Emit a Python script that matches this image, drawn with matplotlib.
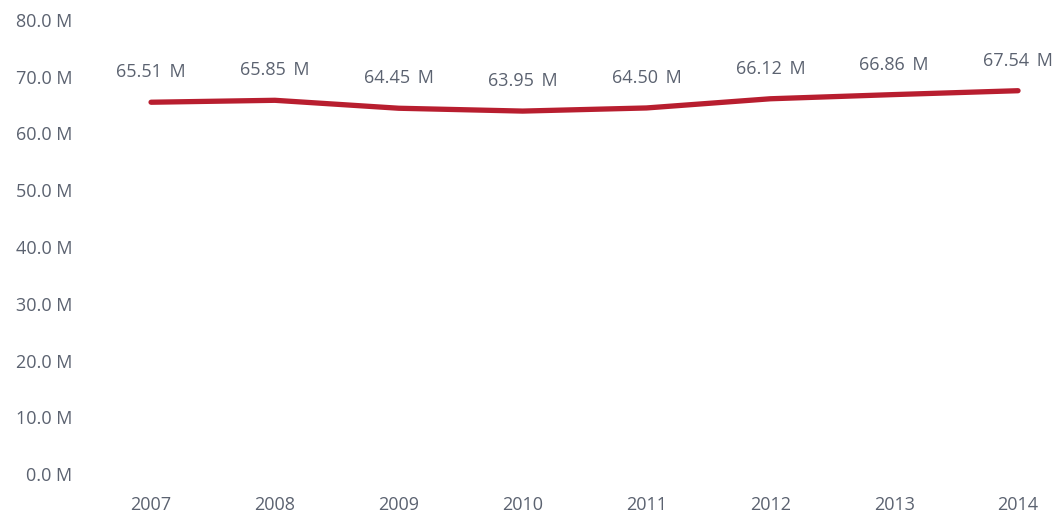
import matplotlib
matplotlib.use("Agg")
import matplotlib.pyplot as plt
from matplotlib.ticker import FuncFormatter

years = ["2007", "2008", "2009", "2010", "2011", "2012", "2013", "2014"]
values_m = [65.51, 65.85, 64.45, 63.95, 64.50, 66.12, 66.86, 67.54]
y_ticks = [0, 10, 20, 30, 40, 50, 60, 70, 80]

TEXT = "#5b6270"
LINE = "#b81e2f"

plt.rcParams["font.family"] = ["Open Sans", "DejaVu Sans"]

W, H = 1062, 515
fig = plt.figure(figsize=(W / 100, H / 100), dpi=100)
left_px, right_px, bottom_px, top_px = 101.5, 1042.8, 474, 20
ax = fig.add_axes([left_px / W, (H - bottom_px) / H,
                   (right_px - left_px) / W, (bottom_px - top_px) / H])

x = list(range(len(years)))
ax.plot(x, values_m, color=LINE, lw=3.8, solid_capstyle="round")

for xi, v in zip(x, values_m):
    ax.annotate(f"{v:.2f}\u2009 M", (xi, v), xytext=(0, 21.5), textcoords="offset points",
                ha="center", va="center", fontsize=13, color=TEXT)

ax.set_xlim(-0.4, 7.2)
ax.set_ylim(0, 80)
ax.set_xticks(x)
ax.set_xticklabels(years)
ax.set_yticks(y_ticks)
ax.yaxis.set_major_formatter(FuncFormatter(lambda v, _: f"{v:.1f} M"))

ax.tick_params(axis="both", length=0, labelsize=13, labelcolor=TEXT)
ax.tick_params(axis="y", pad=21)
ax.tick_params(axis="x", pad=16)
for s in ax.spines.values():
    s.set_visible(False)

fig.savefig("out.png", dpi=100)
